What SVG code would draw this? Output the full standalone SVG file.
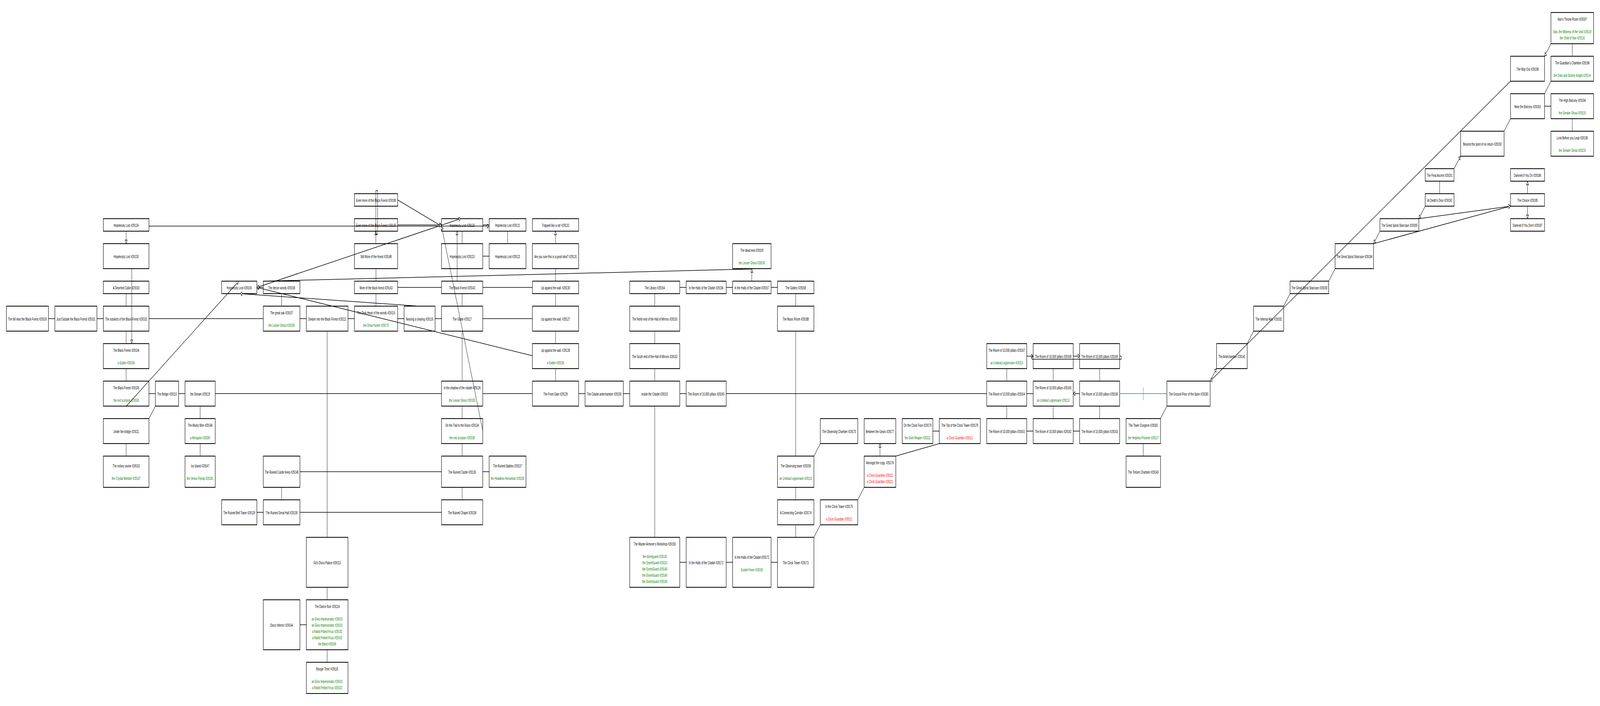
<svg xmlns="http://www.w3.org/2000/svg" width="7991" height="1808" viewBox="0 0 7991 1808" preserveAspectRatio="none" style="width:100vw;height:100vh;display:block">
<style>
.b{fill:#fff;stroke:#000;stroke-width:2}
text{font-family:"Liberation Sans",Arial,sans-serif;font-size:11.7px;text-anchor:middle;fill:#000}
text.g{fill:#008000}
text.r{fill:#ff0000}
.e line,.e path,.e rect{stroke:#000;stroke-width:1.5;fill:none}
.e .bl{stroke:#6495ed;stroke-width:2}
</style>
<defs>
<marker id="a" viewBox="0 0 10 12" refX="10" refY="6" markerWidth="10" markerHeight="12" markerUnits="userSpaceOnUse" orient="auto"><path d="M0.8,0.8 L9.6,6 L0.8,11.2 z" fill="#fff" stroke="#000" stroke-width="1.5"/></marker>
<marker id="as" viewBox="0 0 10 12" refX="10" refY="6" markerWidth="10" markerHeight="12" markerUnits="userSpaceOnUse" orient="auto-start-reverse"><path d="M0.8,0.8 L9.6,6 L0.8,11.2 z" fill="#fff" stroke="#000" stroke-width="1.5"/></marker>
</defs>
<rect width="7991" height="1808" fill="#fff"/>
<g id="nodes">
<g id="n29100"><rect class="b" x="32" y="784" width="210" height="64"/><text x="137" y="821">The hill near the Black Forest #29100</text></g>
<g id="n29101"><rect class="b" x="274" y="784" width="210" height="64"/><text x="379" y="821">Just Outside the Black Forest #29101</text></g>
<g id="n29102"><rect class="b" x="516" y="784" width="228" height="64"/><text x="630" y="821">The outskirts of the Black Forest #29102</text></g>
<g id="n29124"><rect class="b" x="516" y="560" width="228" height="32"/><text x="630" y="581">Hopelessly Lost #29124</text></g>
<g id="n29125"><rect class="b" x="516" y="624" width="228" height="64"/><text x="630" y="661">Hopelessly Lost #29125</text></g>
<g id="n29103"><rect class="b" x="516" y="720" width="228" height="32"/><text x="630" y="741">A Deserted Cabin #29103</text></g>
<g id="n29104"><rect class="b" x="516" y="880" width="228" height="64"/><text x="630" y="901">The Black Forest #29104</text><text class="g" x="630" y="933">a Goblin #29106</text></g>
<g id="n29105"><rect class="b" x="516" y="976" width="228" height="64"/><text x="630" y="997">The Black Forest #29105</text><text class="g" x="630" y="1029">the red scorpion #29108</text></g>
<g id="n29111"><rect class="b" x="516" y="1072" width="228" height="64"/><text x="630" y="1109">Under the bridge #29111</text></g>
<g id="n29133"><rect class="b" x="516" y="1168" width="228" height="80"/><text x="630" y="1197">The rockey ravine #29133</text><text class="g" x="630" y="1229">the Crystal Monster #29107</text></g>
<g id="n29110"><rect class="b" x="776" y="976" width="116" height="64"/><text x="834" y="1013">The Bridge #29110</text></g>
<g id="n29119"><rect class="b" x="924" y="976" width="151" height="64"/><text x="999.5" y="1013">the Stream #29119</text></g>
<g id="n29146"><rect class="b" x="924" y="1072" width="151" height="64"/><text x="999.5" y="1093">The Murky Mire #29146</text><text class="g" x="999.5" y="1125">a Mosquito #29180</text></g>
<g id="n29147"><rect class="b" x="924" y="1168" width="151" height="80"/><text x="999.5" y="1197">Ivy Island #29147</text><text class="g" x="999.5" y="1229">the Venus Flytrap #29181</text></g>
<g id="n29106"><rect class="b" x="1107" y="720" width="176" height="32"/><text x="1195" y="741">Hopelessly Lost #29106</text></g>
<g id="n29139"><rect class="b" x="1107" y="1280" width="176" height="64"/><text x="1195" y="1317">The Ruined Bell Tower #29139</text></g>
<g id="n29108"><rect class="b" x="1315" y="720" width="183" height="32"/><text x="1406.5" y="741">The dense woods #29108</text></g>
<g id="n29107"><rect class="b" x="1315" y="784" width="183" height="64"/><text x="1406.5" y="805">The great oak #29107</text><text class="g" x="1406.5" y="837">the Lesser Ghoul #29105</text></g>
<g id="n29145"><rect class="b" x="1315" y="1168" width="183" height="80"/><text x="1406.5" y="1213">The Ruined Castle Keep #29145</text></g>
<g id="n29138"><rect class="b" x="1315" y="1280" width="183" height="64"/><text x="1406.5" y="1317">The Ruined Great Hall #29138</text></g>
<g id="n29144"><rect class="b" x="1315" y="1536" width="183" height="128"/><text x="1406.5" y="1605">Disco Inferno! #29144</text></g>
<g id="n29112"><rect class="b" x="1530" y="784" width="208" height="64"/><text x="1634" y="821">Deeper into the Black Forest #29112</text></g>
<g id="n29113"><rect class="b" x="1530" y="1376" width="208" height="128"/><text x="1634" y="1445">Ed's Disco Palace #29113</text></g>
<g id="n29114"><rect class="b" x="1530" y="1536" width="208" height="128"/><text x="1634" y="1557">The Dance floor #29114</text><text class="g" x="1634" y="1589">an Elvis Impersonator #29101</text><text class="g" x="1634" y="1605">an Elvis Impersonator #29101</text><text class="g" x="1634" y="1621">a Rabid Potted Ficus #29102</text><text class="g" x="1634" y="1637">a Rabid Potted Ficus #29102</text><text class="g" x="1634" y="1653">the Band #29199</text></g>
<g id="n29118"><rect class="b" x="1530" y="1696" width="208" height="80"/><text x="1634" y="1717">Boogie Time! #29118</text><text class="g" x="1634" y="1749">an Elvis Impersonator #29101</text><text class="g" x="1634" y="1765">a Rabid Potted Ficus #29102</text></g>
<g id="n29199"><rect class="b" x="1770" y="496" width="216" height="32"/><text x="1878" y="517">Even more of the Black Forest #29199</text></g>
<g id="n29149"><rect class="b" x="1770" y="560" width="216" height="32"/><text x="1878" y="581">Even more of the Black Forest #29149</text></g>
<g id="n29148"><rect class="b" x="1770" y="624" width="216" height="64"/><text x="1878" y="661">Still More of the forest #29148</text></g>
<g id="n29143"><rect class="b" x="1770" y="720" width="216" height="32"/><text x="1878" y="741">More of the black forest #29143</text></g>
<g id="n29115"><rect class="b" x="1770" y="784" width="216" height="64"/><text x="1878" y="805">The Dark Heart of the woods #29115</text><text class="g" x="1878" y="837">the Drow Hunter #29175</text></g>
<g id="n29116"><rect class="b" x="2018" y="784" width="155" height="64"/><text x="2095.5" y="821">Nearing a clearing #29116</text></g>
<g id="n29120"><rect class="b" x="2205" y="560" width="206" height="32"/><text x="2308" y="581">Hopelessly Lost #29120</text></g>
<g id="n29123"><rect class="b" x="2205" y="624" width="206" height="64"/><text x="2308" y="661">Hopelessly Lost #29123</text></g>
<g id="n29142"><rect class="b" x="2205" y="720" width="206" height="32"/><text x="2308" y="741">The Black Forest #29142</text></g>
<g id="n29117"><rect class="b" x="2205" y="784" width="206" height="64"/><text x="2308" y="821">The Glade #29117</text></g>
<g id="n29126"><rect class="b" x="2205" y="976" width="206" height="64"/><text x="2308" y="997">In the shadow of the citadel #29126</text><text class="g" x="2308" y="1029">the Lesser Ghoul #29105</text></g>
<g id="n29134"><rect class="b" x="2205" y="1072" width="206" height="64"/><text x="2308" y="1093">On the Trail to the Ruins #29134</text><text class="g" x="2308" y="1125">the red scorpion #29108</text></g>
<g id="n29135"><rect class="b" x="2205" y="1168" width="206" height="80"/><text x="2308" y="1213">The Ruined Castle #29135</text></g>
<g id="n29136"><rect class="b" x="2205" y="1280" width="206" height="64"/><text x="2308" y="1317">The Ruined Chapel #29136</text></g>
<g id="n29121"><rect class="b" x="2443" y="560" width="184" height="32"/><text x="2535" y="581">Hopelessly Lost #29121</text></g>
<g id="n29122"><rect class="b" x="2443" y="624" width="184" height="64"/><text x="2535" y="661">Hopelessly Lost #29122</text></g>
<g id="n29137"><rect class="b" x="2443" y="1168" width="184" height="80"/><text x="2535" y="1197">The Ruined Stables #29137</text><text class="g" x="2535" y="1229">the Headless Horseman #29100</text></g>
<g id="n29132"><rect class="b" x="2659" y="560" width="231" height="32"/><text x="2774.5" y="581">Trapped like a rat! #29132</text></g>
<g id="n29131"><rect class="b" x="2659" y="624" width="231" height="64"/><text x="2774.5" y="661">Are you sure this is a good idea? #29131</text></g>
<g id="n29130"><rect class="b" x="2659" y="720" width="231" height="32"/><text x="2774.5" y="741">Up against the wall. #29130</text></g>
<g id="n29127"><rect class="b" x="2659" y="784" width="231" height="64"/><text x="2774.5" y="821">Up against the wall. #29127</text></g>
<g id="n29128"><rect class="b" x="2659" y="880" width="231" height="64"/><text x="2774.5" y="901">Up against the wall. #29128</text><text class="g" x="2774.5" y="933">a Goblin #29106</text></g>
<g id="n29129"><rect class="b" x="2659" y="976" width="231" height="64"/><text x="2774.5" y="1013">The Front Gate #29129</text></g>
<g id="n29150"><rect class="b" x="2922" y="976" width="191" height="64"/><text x="3017.5" y="1013">The Citadel antechamber #29150</text></g>
<g id="n29154"><rect class="b" x="3145" y="720" width="250" height="32"/><text x="3270" y="741">The Library #29154</text></g>
<g id="n29153"><rect class="b" x="3145" y="784" width="250" height="64"/><text x="3270" y="821">The North end of the Hall of Mirrors #29153</text></g>
<g id="n29152"><rect class="b" x="3145" y="880" width="250" height="64"/><text x="3270" y="917">The South end of the Hall of Mirrors #29152</text></g>
<g id="n29151"><rect class="b" x="3145" y="976" width="250" height="64"/><text x="3270" y="1013">Inside the Citadel #29151</text></g>
<g id="n29155"><rect class="b" x="3145" y="1376" width="250" height="128"/><text x="3270" y="1397">The Master Armorer's Workshop #29155</text><text class="g" x="3270" y="1429">the doomguard #29130</text><text class="g" x="3270" y="1445">the DoomGuard #29110</text><text class="g" x="3270" y="1461">the DoomGuard #29140</text><text class="g" x="3270" y="1477">the DoomGuard #29140</text><text class="g" x="3270" y="1493">the DoomGuard #29140</text></g>
<g id="n29156"><rect class="b" x="3427" y="720" width="200" height="32"/><text x="3527" y="741">In the Halls of the Citadel #29156</text></g>
<g id="n29160"><rect class="b" x="3427" y="976" width="200" height="64"/><text x="3527" y="1013">The Room of 10,000 pillars #29160</text></g>
<g id="n29171"><rect class="b" x="3427" y="1376" width="200" height="128"/><text x="3527" y="1445">In the Halls of the Citadel #29171</text></g>
<g id="n29109"><rect class="b" x="3659" y="624" width="192" height="64"/><text x="3755" y="645">The dead end #29109</text><text class="g" x="3755" y="677">the Lesser Ghoul #29105</text></g>
<g id="n29157"><rect class="b" x="3659" y="720" width="192" height="32"/><text x="3755" y="741">In the Halls of the Citadel #29157</text></g>
<g id="n29172"><rect class="b" x="3659" y="1376" width="192" height="128"/><text x="3755" y="1431">In the Halls of the Citadel #29172</text><text class="g" x="3755" y="1463">Scarlet Fever #29150</text></g>
<g id="n29158"><rect class="b" x="3883" y="720" width="182" height="32"/><text x="3974" y="741">The Gallery #29158</text></g>
<g id="n29188"><rect class="b" x="3883" y="784" width="182" height="64"/><text x="3974" y="821">The Music Room #29188</text></g>
<g id="n29159"><rect class="b" x="3883" y="1168" width="182" height="80"/><text x="3974" y="1197">The Observing tower #29159</text><text class="g" x="3974" y="1229">an Undead Legionnaire #29113</text></g>
<g id="n29174"><rect class="b" x="3883" y="1280" width="182" height="64"/><text x="3974" y="1317">A Connecting Corridor #29174</text></g>
<g id="n29173"><rect class="b" x="3883" y="1376" width="182" height="128"/><text x="3974" y="1445">The Clock Tower #29173</text></g>
<g id="n29170"><rect class="b" x="4097" y="1072" width="187" height="64"/><text x="4190.5" y="1109">The Observing Chamber #29170</text></g>
<g id="n29175"><rect class="b" x="4097" y="1280" width="187" height="64"/><text x="4190.5" y="1301">In the Clock Tower #29175</text><text class="r" x="4190.5" y="1333">a Clock Guardian #29111</text></g>
<g id="n29177"><rect class="b" x="4316" y="1072" width="158" height="64"/><text x="4395" y="1109">Between the Gears #29177</text></g>
<g id="n29176"><rect class="b" x="4316" y="1168" width="158" height="80"/><text x="4395" y="1189">Amongst the cogs. #29176</text><text class="r" x="4395" y="1221">a Clock Guardian #29111</text><text class="r" x="4395" y="1237">a Clock Guardian #29111</text></g>
<g id="n29179"><rect class="b" x="4506" y="1072" width="153" height="64"/><text x="4582.5" y="1093">On the Clock Face #29179</text><text class="g" x="4582.5" y="1125">the Grim Reaper #29112</text></g>
<g id="n29178"><rect class="b" x="4691" y="1072" width="205" height="64"/><text x="4793.5" y="1093">The Top of the Clock Tower #29178</text><text class="r" x="4793.5" y="1125">a Clock Guardian #29111</text></g>
<g id="n29167"><rect class="b" x="4928" y="880" width="200" height="64"/><text x="5028" y="901">The Room of 10,000 pillars #29167</text><text class="g" x="5028" y="933">an Undead Legionnaire #29113</text></g>
<g id="n29164"><rect class="b" x="4928" y="976" width="200" height="64"/><text x="5028" y="1013">The Room of 10,000 pillars #29164</text></g>
<g id="n29161"><rect class="b" x="4928" y="1072" width="200" height="64"/><text x="5028" y="1109">The Room of 10,000 pillars #29161</text></g>
<g id="n29168"><rect class="b" x="5160" y="880" width="200" height="64"/><text x="5260" y="917">The Room of 10,000 pillars #29168</text></g>
<g id="n29165"><rect class="b" x="5160" y="976" width="200" height="64"/><text x="5260" y="997">The Room of 10,000 pillars #29165</text><text class="g" x="5260" y="1029">an Undead Legionnaire #29113</text></g>
<g id="n29162"><rect class="b" x="5160" y="1072" width="200" height="64"/><text x="5260" y="1109">The Room of 10,000 pillars #29162</text></g>
<g id="n29169"><rect class="b" x="5392" y="880" width="200" height="64"/><text x="5492" y="917">The Room of 10,000 pillars #29169</text></g>
<g id="n29166"><rect class="b" x="5392" y="976" width="200" height="64"/><text x="5492" y="1013">The Room of 10,000 pillars #29166</text></g>
<g id="n29163"><rect class="b" x="5392" y="1072" width="200" height="64"/><text x="5492" y="1109">The Room of 10,000 pillars #29163</text></g>
<g id="n29181"><rect class="b" x="5624" y="1072" width="172" height="64"/><text x="5710" y="1093">The Tower Dungeon #29181</text><text class="g" x="5710" y="1125">the Helpless Prisoner #29117</text></g>
<g id="n29140"><rect class="b" x="5624" y="1168" width="172" height="80"/><text x="5710" y="1213">The Torture Chamber #29140</text></g>
<g id="n29180"><rect class="b" x="5828" y="976" width="216" height="64"/><text x="5936" y="1013">The Ground Floor of the Spire #29180</text></g>
<g id="n29141"><rect class="b" x="6076" y="880" width="153" height="64"/><text x="6152.5" y="917">The Antechamber #29141</text></g>
<g id="n29182"><rect class="b" x="6261" y="784" width="150" height="64"/><text x="6336" y="821">The Infernal Altar #29182</text></g>
<g id="n29183"><rect class="b" x="6443" y="720" width="193" height="32"/><text x="6539.5" y="741">The Great Spiral Staircase #29183</text></g>
<g id="n29184"><rect class="b" x="6668" y="624" width="192" height="64"/><text x="6764" y="661">The Great Spiral Staircase #29184</text></g>
<g id="n29189"><rect class="b" x="6892" y="560" width="194" height="32"/><text x="6989" y="581">The Great Spiral Staircase #29189</text></g>
<g id="n29191"><rect class="b" x="7118" y="432" width="144" height="32"/><text x="7190" y="453">The Final Ascent #29191</text></g>
<g id="n29190"><rect class="b" x="7118" y="496" width="144" height="32"/><text x="7190" y="517">At Death's Door #29190</text></g>
<g id="n29192"><rect class="b" x="7295" y="336" width="217" height="64"/><text x="7403.5" y="373">Beyond the point of no return #29192</text></g>
<g id="n29198"><rect class="b" x="7544" y="144" width="170" height="64"/><text x="7629" y="181">The Way Out #29198</text></g>
<g id="n29193"><rect class="b" x="7544" y="240" width="170" height="64"/><text x="7629" y="277">Near the Balcony #29193</text></g>
<g id="n29186"><rect class="b" x="7544" y="432" width="170" height="32"/><text x="7629" y="453">Damned if You Do #29186</text></g>
<g id="n29185"><rect class="b" x="7544" y="496" width="170" height="32"/><text x="7629" y="517">The Choice #29185</text></g>
<g id="n29187"><rect class="b" x="7544" y="560" width="170" height="32"/><text x="7629" y="581">Damned if You Don't #29187</text></g>
<g id="n29197"><rect class="b" x="7746" y="32" width="213" height="80"/><text x="7852.5" y="53">Ilian's Throne Room #29197</text><text class="g" x="7852.5" y="85">Ilian, the Mistress of the Void #29119</text><text class="g" x="7852.5" y="101">the Child of Ilian #29116</text></g>
<g id="n29196"><rect class="b" x="7746" y="144" width="213" height="64"/><text x="7852.5" y="165">The Guardian's Chamber #29196</text><text class="g" x="7852.5" y="197">the Dark and Stormy Knight #29114</text></g>
<g id="n29194"><rect class="b" x="7746" y="240" width="213" height="64"/><text x="7852.5" y="261">The High Balcony #29194</text><text class="g" x="7852.5" y="293">the Greater Ghoul #29115</text></g>
<g id="n29195"><rect class="b" x="7746" y="336" width="213" height="64"/><text x="7852.5" y="357">Look Before you Leap #29195</text><text class="g" x="7852.5" y="389">the Greater Ghoul #29115</text></g>
</g>
<g id="edges" class="e">
<line x1="242" y1="816" x2="274" y2="816"/>
<line x1="484" y1="816" x2="516" y2="816"/>
<line x1="744" y1="816" x2="1315" y2="816"/>
<line x1="1498" y1="816" x2="1530" y2="816"/>
<line x1="1738" y1="816" x2="1770" y2="816"/>
<line x1="1986" y1="816" x2="2018" y2="816"/>
<line x1="2173" y1="816" x2="2205" y2="816"/>
<line x1="2411" y1="816" x2="2659" y2="816"/>
<line x1="744" y1="1008" x2="776" y2="1008"/>
<line x1="892" y1="1008" x2="924" y2="1008"/>
<line x1="1075" y1="1008" x2="2205" y2="1008"/>
<line x1="2411" y1="1008" x2="2659" y2="1008"/>
<line x1="2890" y1="1008" x2="2922" y2="1008"/>
<line x1="3113" y1="1008" x2="3145" y2="1008"/>
<line x1="3395" y1="1008" x2="3427" y2="1008"/>
<line x1="3627" y1="1008" x2="4928" y2="1008"/>
<line x1="5128" y1="1008" x2="5160" y2="1008"/>
<line x1="5392" y1="1008" x2="5360" y2="1008" marker-end="url(#a)"/>
<line class="bl" x1="5592" y1="1008" x2="5828" y2="1008"/>
<line class="bl" x1="5710" y1="992" x2="5710" y2="1025"/>
<line x1="1986" y1="736" x2="2205" y2="736"/>
<line x1="2411" y1="736" x2="2659" y2="736"/>
<line x1="3395" y1="736" x2="3427" y2="736"/>
<line x1="3627" y1="736" x2="3659" y2="736"/>
<line x1="3851" y1="736" x2="3883" y2="736"/>
<line x1="1315" y1="736" x2="1283" y2="736" marker-end="url(#a)"/>
<line x1="2411" y1="656" x2="2443" y2="656"/>
<line x1="1498" y1="1208" x2="2205" y2="1208"/>
<line x1="2411" y1="1208" x2="2443" y2="1208"/>
<line x1="1283" y1="1312" x2="1315" y2="1312"/>
<line x1="1498" y1="1312" x2="2205" y2="1312"/>
<line x1="1498" y1="1600" x2="1530" y2="1600"/>
<line x1="3395" y1="1440" x2="3427" y2="1440"/>
<line x1="3627" y1="1440" x2="3659" y2="1440"/>
<line x1="3851" y1="1440" x2="3883" y2="1440"/>
<line x1="4659" y1="1104" x2="4691" y2="1104"/>
<line x1="5128" y1="1104" x2="5160" y2="1104"/>
<line x1="5360" y1="1104" x2="5392" y2="1104"/>
<line x1="5128" y1="912" x2="5160" y2="912" marker-end="url(#a)"/>
<line x1="5360" y1="912" x2="5392" y2="912" marker-end="url(#a)"/>
<path d="M5592,912 L5600,912 L5600,920 L5154,920 L5154,912 L5160,912"/>
<line x1="7714" y1="272" x2="7746" y2="272"/>
<line x1="744" y1="579" x2="2443" y2="579" marker-end="url(#a)"/>
<line x1="1986" y1="576" x2="2205" y2="576" marker-end="url(#a)"/>
<line x1="2411" y1="576" x2="2443" y2="576"/>
<line x1="630" y1="592" x2="630" y2="624" marker-end="url(#a)"/>
<line x1="658" y1="688" x2="658" y2="880" marker-end="url(#a)"/>
<line x1="630" y1="752" x2="630" y2="784"/>
<line x1="630" y1="848" x2="630" y2="880"/>
<line x1="630" y1="944" x2="630" y2="976"/>
<line x1="630" y1="1136" x2="630" y2="1168"/>
<line x1="999.5" y1="1040" x2="999.5" y2="1072"/>
<line x1="999.5" y1="1136" x2="999.5" y2="1168"/>
<line x1="1406.5" y1="752" x2="1406.5" y2="784"/>
<line x1="1406.5" y1="1248" x2="1406.5" y2="1280"/>
<line x1="1634" y1="848" x2="1634" y2="1376"/>
<line x1="1634" y1="1504" x2="1634" y2="1536"/>
<line x1="1634" y1="1664" x2="1634" y2="1696"/>
<line x1="1877" y1="624" x2="1877" y2="592" marker-end="url(#a)"/>
<rect x="1877" y="488" width="9" height="112"/>
<line x1="1878" y1="688" x2="1878" y2="720"/>
<line x1="1878" y1="752" x2="1878" y2="784"/>
<line x1="2308" y1="592" x2="2308" y2="624"/>
<line x1="2283" y1="720" x2="2283" y2="592" marker-end="url(#a)"/>
<line x1="2308" y1="752" x2="2308" y2="784"/>
<line x1="2308" y1="848" x2="2308" y2="976"/>
<line x1="2308" y1="1040" x2="2308" y2="1072"/>
<line x1="2308" y1="1136" x2="2308" y2="1168"/>
<line x1="2308" y1="1248" x2="2308" y2="1280"/>
<line x1="2535" y1="592" x2="2535" y2="624"/>
<line x1="2774.5" y1="624" x2="2774.5" y2="592" marker-end="url(#a)"/>
<line x1="2774.5" y1="688" x2="2774.5" y2="720"/>
<line x1="2774.5" y1="752" x2="2774.5" y2="784"/>
<line x1="2774.5" y1="848" x2="2774.5" y2="880"/>
<line x1="2774.5" y1="944" x2="2774.5" y2="976"/>
<line x1="3270" y1="752" x2="3270" y2="784"/>
<line x1="3270" y1="848" x2="3270" y2="880"/>
<line x1="3270" y1="944" x2="3270" y2="976"/>
<line x1="3270" y1="1040" x2="3270" y2="1376"/>
<line x1="3755" y1="720" x2="3755" y2="688" marker-end="url(#a)"/>
<line x1="3974" y1="752" x2="3974" y2="784"/>
<line x1="3974" y1="848" x2="3974" y2="1168"/>
<line x1="3974" y1="1248" x2="3974" y2="1280"/>
<line x1="3974" y1="1344" x2="3974" y2="1376"/>
<line x1="4395" y1="1168" x2="4395" y2="1136" marker-end="url(#a)"/>
<line x1="5028" y1="944" x2="5028" y2="976"/>
<line x1="5028" y1="1040" x2="5028" y2="1072"/>
<line x1="5260" y1="944" x2="5260" y2="976"/>
<line x1="5260" y1="1040" x2="5260" y2="1072"/>
<line x1="5492" y1="944" x2="5492" y2="976"/>
<line x1="5492" y1="1040" x2="5492" y2="1072"/>
<line x1="5710" y1="1136" x2="5710" y2="1168"/>
<line x1="7190" y1="464" x2="7190" y2="496"/>
<line x1="7629" y1="496" x2="7629" y2="464" marker-end="url(#a)"/>
<line x1="7629" y1="528" x2="7629" y2="560" marker-end="url(#a)"/>
<line x1="7852.5" y1="112" x2="7852.5" y2="144"/>
<line x1="7852.5" y1="304" x2="7852.5" y2="336"/>
<line x1="776" y1="1040" x2="744" y2="1072"/>
<line x1="4065" y1="1168" x2="4097" y2="1136"/>
<line x1="4065" y1="1376" x2="4097" y2="1344"/>
<line x1="4284" y1="1280" x2="4316" y2="1248"/>
<line x1="4474" y1="1168" x2="4691" y2="1136"/>
<line x1="5828" y1="1040" x2="5796" y2="1072"/>
<line x1="6044" y1="976" x2="6076" y2="944" marker-end="url(#a)"/>
<line x1="6229" y1="880" x2="6261" y2="848"/>
<line x1="6411" y1="784" x2="6443" y2="752"/>
<line x1="6636" y1="720" x2="6668" y2="688"/>
<line x1="6892" y1="592" x2="6860" y2="624" marker-end="url(#a)"/>
<line x1="7086" y1="560" x2="7544" y2="528" marker-end="url(#a)"/>
<line x1="6860" y1="624" x2="7544" y2="528" marker-end="url(#a)"/>
<line x1="7118" y1="528" x2="7086" y2="560" marker-end="url(#a)"/>
<line x1="7262" y1="432" x2="7295" y2="400" marker-end="url(#a)"/>
<line x1="7544" y1="304" x2="7512" y2="336"/>
<line x1="7746" y1="208" x2="7714" y2="240"/>
<line x1="7746" y1="112" x2="7714" y2="144" marker-end="url(#a)"/>
<line x1="7544" y1="208" x2="6044" y2="976" marker-end="url(#a)"/>
<line x1="631" y1="1040" x2="1193" y2="720" marker-end="url(#a)"/>
<line x1="2659" y1="911" x2="1283" y2="736" marker-end="url(#a)"/>
<line x1="2301" y1="560" x2="1283" y2="736" marker-start="url(#as)" marker-end="url(#a)"/>
<line x1="2090" y1="784" x2="1200" y2="752" marker-end="url(#a)"/>
<line x1="1986" y1="512" x2="2205" y2="579" marker-end="url(#a)"/>
<line x1="2411" y1="1103" x2="2205" y2="579" marker-end="url(#a)"/>
<line x1="1315" y1="720" x2="3752" y2="689"/>
</g>
</svg>
